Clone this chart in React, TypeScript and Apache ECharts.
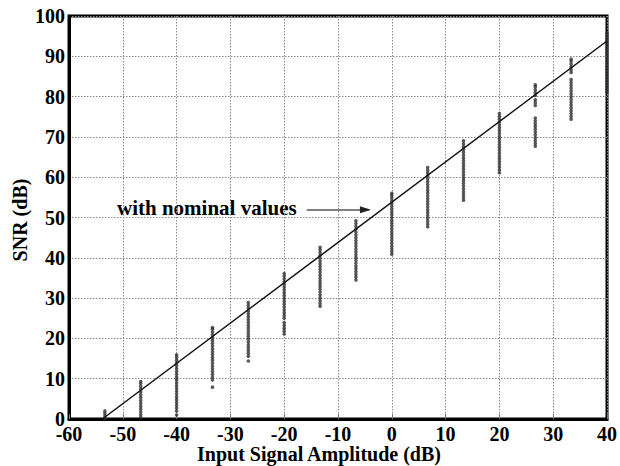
import React, { useEffect, useRef } from "react";
import * as echarts from "echarts";

// Input amplitudes (dB) at which the SNR was sampled
const amplitudes = [
  -53.33, -46.67, -40, -33.33, -26.67, -20, -13.33, -6.67, 0, 6.67, 13.33, 20,
  26.67, 33.33, 40,
];

// SNR samples (dB) for every amplitude, one list per amplitude
const snrColumns: number[][] = [
  [0.2, 0.8, 1.4, 2.0],
  [0.4, 1.1, 1.8, 2.5, 3.2, 3.9, 4.6, 5.3, 6.0, 6.7, 7.4, 8.1, 8.8, 9.3],
  [1.0, 2.0, 2.7, 3.4, 4.1, 4.8, 5.5, 6.2, 6.9, 7.6, 8.3, 9.0, 9.7, 10.4, 11.1, 11.8, 12.5, 13.2, 13.9, 14.6, 15.3, 15.9],
  [7.9, 9.7, 10.4, 11.1, 11.8, 12.5, 13.2, 13.9, 14.6, 15.3, 16.0, 16.7, 17.4, 18.1, 18.8, 19.5, 20.2, 20.9, 21.6, 22.3, 22.7],
  [14.4, 15.6, 16.3, 17.0, 17.7, 18.4, 19.1, 19.8, 20.5, 21.2, 21.9, 22.6, 23.3, 24.0, 24.7, 25.4, 26.1, 26.8, 27.5, 28.2, 28.9],
  [21.1, 21.8, 22.5, 23.2, 23.9, 25.0, 25.7, 26.4, 27.1, 27.8, 28.5, 29.2, 29.9, 30.6, 31.3, 32.0, 32.7, 33.4, 34.1, 34.8, 35.5, 36.1],
  [28.0, 28.7, 29.4, 30.1, 30.8, 31.5, 32.2, 32.9, 33.6, 34.3, 35.0, 35.7, 36.4, 37.1, 37.8, 38.5, 39.2, 39.9, 40.6, 41.3, 42.0, 42.6],
  [34.5, 35.2, 35.9, 36.6, 37.3, 38.0, 38.7, 39.4, 40.1, 40.8, 41.5, 42.2, 42.9, 43.6, 44.3, 45.0, 45.7, 46.4, 47.1, 47.8, 48.5, 49.2],
  [40.9, 41.6, 42.3, 43.0, 43.7, 44.4, 45.1, 45.8, 46.5, 47.2, 47.9, 48.6, 49.3, 50.0, 50.7, 51.4, 52.1, 52.8, 53.5, 54.2, 54.9, 55.5, 56.0],
  [47.7, 48.4, 49.1, 49.8, 50.5, 51.2, 51.9, 52.6, 53.3, 54.0, 54.7, 55.4, 56.1, 56.8, 57.5, 58.2, 58.9, 59.6, 60.3, 61.0, 61.7, 62.4],
  [54.3, 55.0, 55.7, 56.4, 57.1, 57.8, 58.5, 59.2, 59.9, 60.6, 61.3, 62.0, 62.7, 63.4, 64.1, 64.8, 65.5, 66.2, 66.9, 67.6, 68.3, 69.0],
  [61.1, 61.8, 62.5, 63.2, 63.9, 64.6, 65.3, 66.0, 66.7, 67.4, 68.1, 68.8, 69.5, 70.2, 70.9, 71.6, 72.3, 73.0, 73.7, 74.4, 75.1, 75.8],
  [67.7, 68.4, 69.1, 69.8, 70.5, 71.2, 71.9, 72.6, 73.3, 74.0, 74.7, 77.8, 78.5, 79.2, 80.3, 81.0, 81.7, 82.4, 82.9],
  [74.4, 75.1, 75.8, 76.5, 77.2, 77.9, 78.6, 79.3, 80.0, 80.7, 81.4, 82.1, 82.8, 83.5, 84.2, 86.0, 86.7, 87.4, 88.1, 88.8, 89.3],
  [81.1, 81.8, 82.5, 83.2, 83.9, 84.6, 85.3, 86.0, 86.7, 87.4, 88.1, 88.8, 89.5, 90.2, 90.9, 91.6, 92.3, 93.0, 93.7, 94.4, 95.1, 95.8],
];

// Ideal SNR with nominal component values: end points of the straight line
const nominalLine = [
  [-53.8, 0],
  [40, 93.8],
];

// Annotation arrow (data coordinates)
const arrowStart = [-15.8, 51.9];
const arrowEnd = [-4.2, 51.9];

const xTicks = { min: -60, max: 40, interval: 10 };
const yTicks = { min: 0, max: 100, interval: 10 };

const FONT = "Liberation Serif";

export default function App() {
  const ref = useRef<HTMLDivElement>(null);

  useEffect(() => {
    if (!ref.current) return;
    const chart = echarts.init(ref.current, undefined, { renderer: "svg" });

    const scatterData = amplitudes.flatMap((x, i) =>
      snrColumns[i].map((y) => [x, y])
    );

    const gridLine = {
      show: true,
      lineStyle: { color: "#8a8a8a", width: 1, type: [1.5, 1.5] as number[] },
    };
    const axisLabel = {
      color: "#000",
      fontFamily: FONT,
      fontWeight: "bold" as const,
      fontSize: 20,
    };

    chart.setOption({
      animation: false,
      backgroundColor: "#fff",
      grid: {
        left: 69,
        right: 13,
        top: 16,
        bottom: 47,
        show: true,
        borderColor: "#000",
        borderWidth: 3,
        backgroundColor: "transparent",
      },
      xAxis: {
        type: "value",
        ...xTicks,
        axisLine: { show: true, onZero: false, lineStyle: { color: "#000", width: 3 } },
        axisTick: { show: true, inside: true, length: 5, lineStyle: { color: "#777" } },
        axisLabel: { ...axisLabel, margin: 5 },
        splitLine: gridLine,
      },
      yAxis: {
        type: "value",
        ...yTicks,
        axisLine: { show: true, onZero: false, lineStyle: { color: "#000", width: 3 } },
        axisTick: { show: false },
        axisLabel: { ...axisLabel, margin: 4 },
        splitLine: gridLine,
      },
      series: [
        {
          type: "scatter",
          data: scatterData,
          symbol: "circle",
          symbolSize: 3.6,
          itemStyle: { color: "#303030" },
          clip: false,
          z: 3,
        },
        {
          type: "line",
          data: nominalLine,
          symbol: "none",
          lineStyle: { color: "#111", width: 1.5 },
          z: 4,
          markLine: {
            silent: true,
            symbol: ["none", "none"],
            lineStyle: { color: "#808080", width: 2, type: "solid" },
            label: { show: false },
            data: [[{ coord: arrowStart }, { coord: arrowEnd }]],
          },
          markPoint: {
            silent: true,
            symbol: "triangle",
            symbolSize: [7, 11],
            symbolRotate: -90,
            itemStyle: { color: "#222" },
            label: { show: false },
            data: [{ coord: [arrowEnd[0] - 0.7, arrowEnd[1]] }],
          },
        },
      ],
      graphic: [
        {
          type: "text",
          x: 117,
          y: 208,
          style: {
            text: "with nominal values",
            fill: "#000",
            font: `bold 21px ${FONT}`,
            align: "left",
            verticalAlign: "middle",
          },
        },
        {
          type: "text",
          x: 319,
          y: 454,
          style: {
            text: "Input Signal Amplitude (dB)",
            fill: "#000",
            font: `bold 20px ${FONT}`,
            align: "center",
            verticalAlign: "middle",
          },
        },
        {
          type: "text",
          x: 20,
          y: 220,
          rotation: Math.PI / 2,
          style: {
            text: "SNR (dB)",
            fill: "#000",
            font: `bold 20px ${FONT}`,
            align: "center",
            verticalAlign: "middle",
          },
        },
      ],
    });

    return () => chart.dispose();
  }, []);

  return (
    <div
      ref={ref}
      style={{ position: "fixed", left: 0, top: 0, width: 620, height: 466 }}
    />
  );
}
